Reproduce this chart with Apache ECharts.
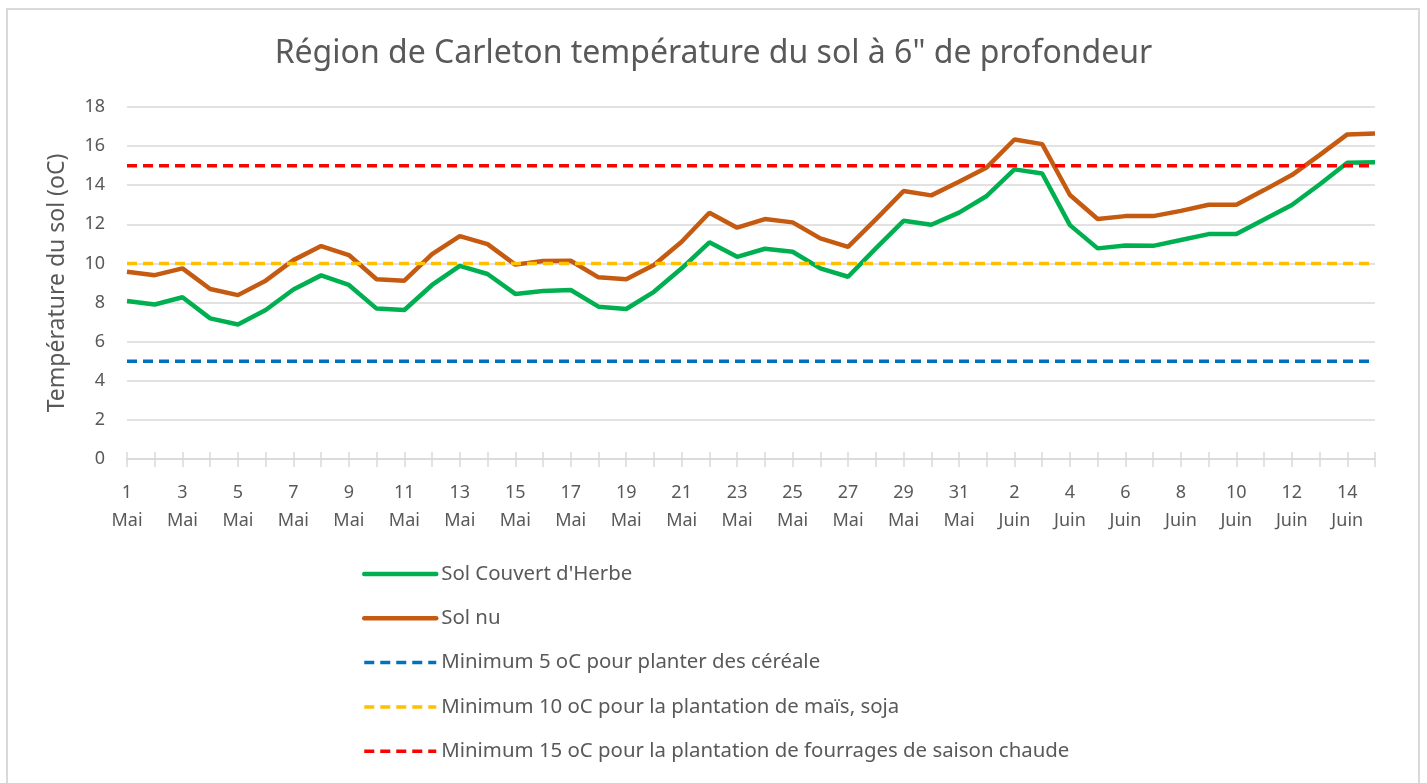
<!DOCTYPE html>
<html>
<head>
<meta charset="utf-8">
<title>Région de Carleton température du sol</title>
<script src="https://cdn.jsdelivr.net/npm/echarts@6/dist/echarts.min.js"></script>
<style>
    html, body { margin: 0; padding: 0; background: #fff; }
    .frame {
        position: absolute; left: 6px; top: 8px;
        width: 1414px; height: 800px;
        border: 2px solid #d9d9d9; box-sizing: border-box;
    }
    #chart { position: absolute; left: 0; top: 0; width: 1427px; height: 783px; }
</style>
</head>
<body>
<div class="frame"></div>
<div id="chart"></div>
<script>
    // jours : 1 Mai -> 15 Juin
    var jours = [
        '1\nMai', '2\nMai', '3\nMai', '4\nMai', '5\nMai', '6\nMai', '7\nMai', '8\nMai', '9\nMai', '10\nMai',
        '11\nMai', '12\nMai', '13\nMai', '14\nMai', '15\nMai', '16\nMai', '17\nMai', '18\nMai', '19\nMai', '20\nMai',
        '21\nMai', '22\nMai', '23\nMai', '24\nMai', '25\nMai', '26\nMai', '27\nMai', '28\nMai', '29\nMai', '30\nMai',
        '31\nMai', '1\nJuin', '2\nJuin', '3\nJuin', '4\nJuin', '5\nJuin', '6\nJuin', '7\nJuin', '8\nJuin', '9\nJuin',
        '10\nJuin', '11\nJuin', '12\nJuin', '13\nJuin', '14\nJuin', '15\nJuin'
    ];

    var solHerbe = [8.08, 7.9, 8.27, 7.19, 6.88, 7.62, 8.67, 9.39, 8.9, 7.69,
        7.62, 8.9, 9.88, 9.46, 8.44, 8.59, 8.64, 7.79, 7.67, 8.55,
        9.75, 11.08, 10.34, 10.75, 10.6, 9.75, 9.32, 10.77, 12.18, 11.98,
        12.6, 13.45, 14.81, 14.6, 11.96, 10.77, 10.92, 10.9, 11.2, 11.5,
        11.5, 12.25, 12.99, 14.04, 15.15, 15.18];

    var solNu = [9.58, 9.4, 9.75, 8.69, 8.38, 9.12, 10.17, 10.89, 10.43, 9.19,
        9.12, 10.48, 11.4, 10.99, 9.94, 10.12, 10.14, 9.29, 9.19, 9.92,
        11.11, 12.59, 11.83, 12.27, 12.1, 11.28, 10.85, 12.25, 13.7, 13.48,
        14.18, 14.91, 16.34, 16.1, 13.5, 12.27, 12.42, 12.42, 12.69, 13.0,
        13.0, 13.75, 14.52, 15.54, 16.6, 16.65];

    var min5 = [5, 5, 5, 5, 5, 5, 5, 5, 5, 5, 5, 5, 5, 5, 5, 5, 5, 5, 5, 5, 5, 5, 5,
        5, 5, 5, 5, 5, 5, 5, 5, 5, 5, 5, 5, 5, 5, 5, 5, 5, 5, 5, 5, 5, 5, 5];
    var min10 = [10, 10, 10, 10, 10, 10, 10, 10, 10, 10, 10, 10, 10, 10, 10, 10, 10, 10, 10, 10, 10, 10, 10,
        10, 10, 10, 10, 10, 10, 10, 10, 10, 10, 10, 10, 10, 10, 10, 10, 10, 10, 10, 10, 10, 10, 10];
    var min15 = [15, 15, 15, 15, 15, 15, 15, 15, 15, 15, 15, 15, 15, 15, 15, 15, 15, 15, 15, 15, 15, 15, 15,
        15, 15, 15, 15, 15, 15, 15, 15, 15, 15, 15, 15, 15, 15, 15, 15, 15, 15, 15, 15, 15, 15, 15];

    var noms = ["Sol Couvert d'Herbe", 'Sol nu',
        'Minimum 5 oC pour planter des céréale',
        'Minimum 10 oC pour la plantation de maïs, soja',
        'Minimum 15 oC pour la plantation de fourrages de saison chaude'];
    var couleurs = ['#00B050', '#C55A11', '#0070C0', '#FFC000', '#FF0000'];

    var police = 'Noto Sans';
    var gris = '#595959';

    function trait(pointille) {
        return {
            width: pointille ? 3.5 : 4.5,
            type: pointille ? [10, 6] : 'solid',
            cap: pointille ? 'butt' : 'round'
        };
    }

    function ligne(i, data, pointille) {
        var st = trait(pointille);
        st.color = couleurs[i];
        st.cap = 'butt';
        return {
            name: noms[i],
            type: 'line',
            data: data,
            symbol: 'none',
            color: couleurs[i],
            lineStyle: st,
            emphasis: { disabled: true }
        };
    }

    var legendData = noms.map(function (n, i) {
        return { name: n, itemStyle: { opacity: 0 }, lineStyle: trait(i >= 2) };
    });

    var chart = echarts.init(document.getElementById('chart'));
    chart.setOption({
        animation: false,
        title: {
            text: 'Région de Carleton température du sol à 6" de profondeur',
            left: 'center',
            top: 33,
            textStyle: { fontFamily: police, fontSize: 32, fontWeight: 'normal', color: gris }
        },
        grid: { left: 127, right: 52, top: 107, bottom: 324, containLabel: false },
        legend: {
            orient: 'vertical',
            left: 357,
            top: 559,
            itemWidth: 72,
            itemHeight: 14,
            itemGap: 24.3,
            textStyle: { fontFamily: police, fontSize: 20.4, lineHeight: 20, color: gris },
            data: legendData
        },
        xAxis: [{
            type: 'category',
            data: jours,
            boundaryGap: false,
            axisLine: { lineStyle: { color: '#d9d9d9', width: 1.5 } },
            axisTick: { interval: 0, length: 8, lineStyle: { color: '#d9d9d9', width: 1.5 } },
            axisLabel: {
                interval: 1,
                margin: 20,
                lineHeight: 28,
                fontFamily: police,
                fontSize: 18,
                color: gris
            }
        }, {
            // graduations croisées : partie vers le haut
            type: 'category',
            data: jours,
            boundaryGap: false,
            position: 'bottom',
            axisLine: { show: false },
            axisTick: { interval: 0, inside: true, length: 7, lineStyle: { color: '#d9d9d9', width: 1.5 } },
            axisLabel: { show: false }
        }],
        yAxis: {
            type: 'value',
            min: 0,
            max: 18,
            interval: 2,
            name: 'Température du sol (oC)',
            nameLocation: 'middle',
            nameRotate: 90,
            nameGap: 58,
            nameTextStyle: { fontFamily: police, fontSize: 23, color: gris },
            axisLine: { show: false },
            axisTick: { show: false },
            axisLabel: { margin: 22, fontFamily: police, fontSize: 18, color: gris },
            splitLine: { lineStyle: { color: '#d9d9d9', width: 1.5 } }
        },
        series: [
            ligne(0, solHerbe, false),
            ligne(1, solNu, false),
            ligne(2, min5, true),
            ligne(3, min10, true),
            ligne(4, min15, true)
        ]
    });

    window.addEventListener('resize', function () {
        chart.resize();
    });
</script>
</body>
</html>
